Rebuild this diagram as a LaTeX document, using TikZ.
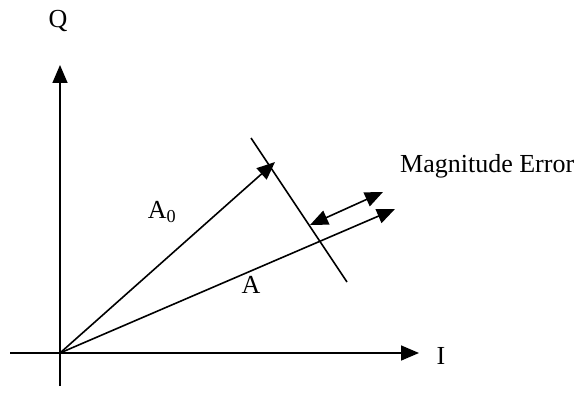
\documentclass[tikz,border=0pt]{standalone}
\usepackage{fontspec}
\setmainfont{Liberation Serif}
\usetikzlibrary{arrows.meta}
\begin{document}
\begin{tikzpicture}[x=1pt,y=-1pt,
  ln/.style={line width=1.6pt},
  arr/.style={ln,-{Triangle[length=18pt,width=15pt]}},
  lbl/.style={font=\fontsize{26}{29}\selectfont, inner sep=0pt}]
\useasboundingbox (0,0) rectangle (579,401);
\coordinate (O) at (60,353);
\coordinate (ybot) at (60,386);
\coordinate (ytop) at (60,65);
\coordinate (xl) at (10,353);
\coordinate (xr) at (419,353);
\coordinate (A0) at (275,162);
\coordinate (A) at (395,209);
\coordinate (pt) at (251,138);
\coordinate (pb) at (347,282);
\coordinate (e1) at (310,225);
\coordinate (e2) at (383,192);
\draw[arr] (ybot) -- (ytop);
\draw[arr] (xl) -- (xr);
\draw[arr] (O) -- (A0);
\draw[arr] (O) -- (A);
\draw[ln] (pt) -- (pb);
\draw[ln,{Triangle[length=18pt,width=15pt]}-{Triangle[length=18pt,width=15pt]}] (e1) -- (e2);
\node[lbl] (q) at (58,21) {Q};
\node[lbl] (i) at (441,356) {I};
\node[lbl] (a0) at (162,212) {A\textsubscript{0}};
\node[lbl] (a) at (251,285) {A};
\node[lbl,anchor=west] (me) at (400,166) {Magnitude Error};
\end{tikzpicture}
\end{document}
